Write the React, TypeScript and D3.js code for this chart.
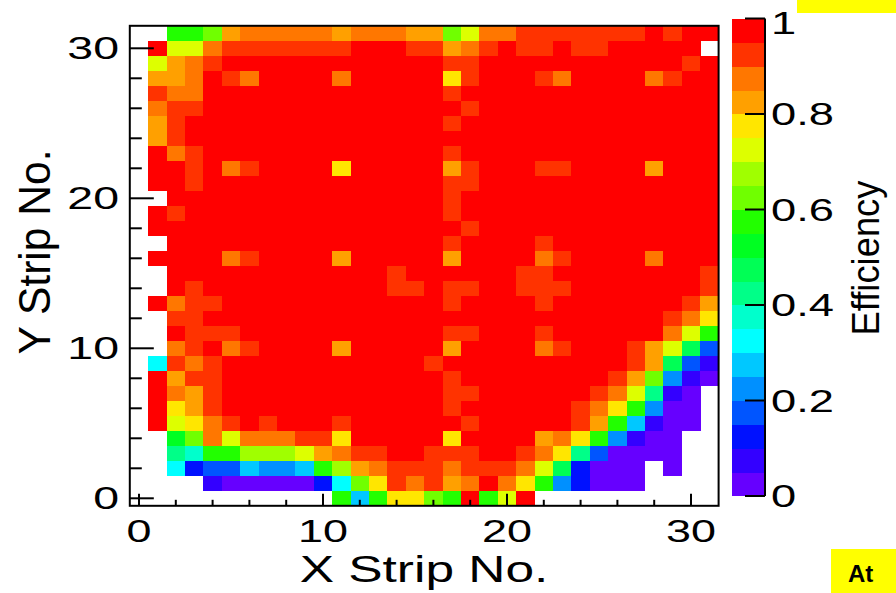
import React from "react";
import * as d3 from "d3";

// Efficiency level codes: 'a' = 0-0.05 ... 't' = 0.95-1.0 ; '.' = no data
const levelCodes = "abcdefghijklmnopqrst";
const palette = [
  "#6600ff", "#3300ff", "#0011ff", "#0055ff", "#0090ff",
  "#00c8ff", "#00ffff", "#00ffcc", "#00ff88", "#00ff55",
  "#00ff22", "#22ff00", "#70ff00", "#a0ff00", "#ddff00",
  "#ffe600", "#ffa000", "#ff7700", "#ff3300", "#ff0000",
];

// Rows from Y strip 31 (top) down to Y strip 0; columns X strip 0..31
const effRows = [
  "..llmqrr rrrqrrrq qmorrsss sssststt",
  ".toorsss ssssttts sqrstsst ssttttt.",
  ".oqrsttt tttttttt tssttttt ttttttst",
  ".qqrtsrt tttrtttt tpstttsr ttttrstt",
  ".srrtttt tttttttt tstttttt tttttttt",
  ".rsstttt tttttttt ttsttttt tttttttt",
  ".qsttttt tttttttt tstttttt tttttttt",
  ".qsttttt tttttttt tttttttt tttttttt",
  ".trstttt tttttttt tstttttt tttttttt",
  ".ttstrst tttptttt tqstttss ttttqttt",
  ".ttstttt tttttttt tssttttt tttttttt",
  "..tttttt tttttttt tstttttt tttttttt",
  ".tsttttt tttttttt tstttttt tttttttt",
  ".ttttttt tttttttt ttsttttt tttttttt",
  "..tttttt tttttttt tsttttst tttttttt",
  ".ttttrst tttqtttt tqttttrs ttttrttt",
  "..tttttt ttttttst tttttsst ttttttts",
  "..tstttt ttttttss tssttsss ttttttts",
  ".trssttt tttttttt tsttttst ttttttsq",
  "..sstttt tttttttt tttttttt tttttsrp",
  "..tssstt tttttttt tsstttst tttttrol",
  "..rstrst tttqtttt tqttttrs tttsqojd",
  ".gsrsttt tttttttt sttttttt tttsqjdb",
  ".tqssttt tttttttt tstttttt ttsqmeba",
  ".trqsttt tttttttt tssttttt tsroiba.",
  ".tpqsttt tttttttt tstttttt srpleaa.",
  ".toprsts tttstttt ttsttttt sqlfbaa.",
  "..kmrorr rssptttt tpttttqr plebaa..",
  "..ihllnn noqrsstt sssttsrp idaaaa..",
  "..gcddfe eflnqrss srsssroj caaa.a..",
  "....baaa aacgmpsr sqrtrple caaa....",
  "........ ...lflpp mltlot.. ........",
];

const xMajorTicks = [0, 10, 20, 30];
const xMinorTicks = [2, 4, 6, 8, 12, 14, 16, 18, 22, 24, 26, 28];
const yMajorTicks = [0, 10, 20, 30];
const yMinorTicks = [2, 4, 6, 8, 12, 14, 16, 18, 22, 24, 26, 28];
const zTicks = [0, 0.2, 0.4, 0.6, 0.8, 1];
const zTickLabels = ["0", "0.2", "0.4", "0.6", "0.8", "1"];

const W = 896;
const H = 593;
const FONT = "'Liberation Sans', Arial, Helvetica, sans-serif";

type Cell = { x: number; y: number; v: number };

const cells: Cell[] = [];
effRows.forEach((row, i) => {
  const s = row.replace(/ /g, "");
  const yStrip = effRows.length - 1 - i;
  s.split("").forEach((ch, xStrip) => {
    const idx = levelCodes.indexOf(ch);
    if (idx >= 0) cells.push({ x: xStrip, y: yStrip, v: (idx + 0.5) / 20 });
  });
});

export default function App() {
  const x = d3.scaleLinear().domain([-0.5, 31.5]).range([129.8, 718.6]);
  const y = d3.scaleLinear().domain([-0.5, 31.5]).range([505.8, 25.8]);
  const color = d3.scaleQuantize<string>().domain([0, 1]).range(palette);
  const z = d3.scaleLinear().domain([0, 1]).range([496, 18.5]);
  const cbLeft = 732;
  const cbRight = 765;

  return (
    <svg
      width={W}
      height={H}
      style={{ position: "absolute", left: 0, top: 0, background: "#fff" }}
      fontFamily={FONT}
    >
      <rect x={0} y={0} width={W} height={H} fill="#fff" />
      {/* heatmap cells */}
      <g shapeRendering="crispEdges">
        {cells.map((c, i) => (
          <rect
            key={i}
            x={x(c.x - 0.5)}
            y={y(c.y + 0.5)}
            width={x(c.x + 0.5) - x(c.x - 0.5) + 0.4}
            height={y(c.y - 0.5) - y(c.y + 0.5) + 0.4}
            fill={color(c.v)}
          />
        ))}
      </g>
      {/* frame */}
      <rect
        x={x(-0.5)}
        y={y(31.5)}
        width={x(31.5) - x(-0.5)}
        height={y(-0.5) - y(31.5)}
        fill="none"
        stroke="#000"
        strokeWidth={2}
      />
      {/* x ticks */}
      {xMajorTicks.map((t) => (
        <line key={"xM" + t} x1={x(t)} x2={x(t)} y1={y(-0.5)} y2={y(-0.5) - 12} stroke="#000" strokeWidth={2} />
      ))}
      {xMinorTicks.map((t) => (
        <line key={"xm" + t} x1={x(t)} x2={x(t)} y1={y(-0.5)} y2={y(-0.5) - 6} stroke="#000" strokeWidth={2} />
      ))}
      {/* y ticks */}
      {yMajorTicks.map((t) => (
        <line key={"yM" + t} x1={x(-0.5)} x2={x(-0.5) + 24} y1={y(t)} y2={y(t)} stroke="#000" strokeWidth={2} />
      ))}
      {yMinorTicks.map((t) => (
        <line key={"ym" + t} x1={x(-0.5)} x2={x(-0.5) + 12} y1={y(t)} y2={y(t)} stroke="#000" strokeWidth={2} />
      ))}
      {/* x tick labels */}
      {xMajorTicks.map((t) => (
        <text
          key={"xl" + t}
          transform={`translate(${x(t)},542) scale(1.45,1)`}
          textAnchor="middle"
          fontSize={31}
        >
          {t}
        </text>
      ))}
      {/* y tick labels */}
      {yMajorTicks.map((t) => (
        <text
          key={"yl" + t}
          transform={`translate(119,${y(t) + 11}) scale(1.5,1)`}
          textAnchor="end"
          fontSize={31}
        >
          {t}
        </text>
      ))}
      {/* axis titles */}
      <text transform="translate(424,582) scale(1.39,1)" textAnchor="middle" fontSize={37}>
        X Strip No.
      </text>
      <text
        transform="translate(50,252) rotate(-90)"
        textAnchor="middle"
        fontSize={44}
        textLength={205}
        lengthAdjust="spacingAndGlyphs"
      >
        Y Strip No.
      </text>
      {/* colour bar */}
      <g shapeRendering="crispEdges">
        {palette.map((c, i) => (
          <rect
            key={"cb" + i}
            x={cbLeft}
            y={z((i + 1) / 20)}
            width={cbRight - cbLeft}
            height={z(i / 20) - z((i + 1) / 20) + 0.4}
            fill={c}
          />
        ))}
      </g>
      <line x1={cbRight} x2={cbRight} y1={z(1)} y2={z(0)} stroke="#000" strokeWidth={2} />
      {zTicks.map((t) => (
        <line key={"zt" + t} x1={cbRight - 20} x2={cbRight} y1={z(t)} y2={z(t)} stroke="#000" strokeWidth={2} />
      ))}
      {zTicks.map((t, i) => (
        <text
          key={"zl" + t}
          transform={`translate(771,${Math.max(z(t) + 11, 34)}) scale(1.46,1)`}
          textAnchor="start"
          fontSize={31}
        >
          {zTickLabels[i]}
        </text>
      ))}
      <text
        transform="translate(879,258) rotate(-90)"
        textAnchor="middle"
        fontSize={38}
        textLength={155}
        lengthAdjust="spacingAndGlyphs"
      >
        Efficiency
      </text>
      {/* slide decorations */}
      <rect x={797} y={0} width={99} height={13} fill="#ffff00" />
      <rect x={831} y={549} width={65} height={44} fill="#ffff00" />
      <text x={848} y={582} fontSize={24} fontWeight="bold">
        At
      </text>
    </svg>
  );
}
